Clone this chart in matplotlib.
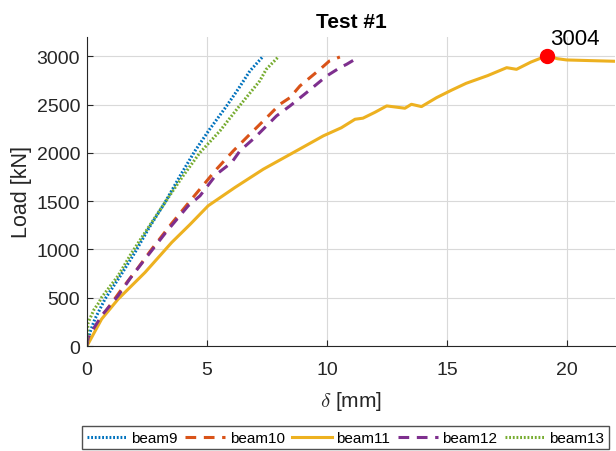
import numpy as np
import matplotlib.pyplot as plt

plt.rcParams['font.family'] = ['Liberation Sans', 'DejaVu Sans']
plt.rcParams['mathtext.fontset'] = 'cm'

# deflection [mm] / load [kN]
d9 = [0.0, 0.125, 0.33, 0.75, 1.4, 2.0, 2.6, 3.25, 3.9, 4.5, 5.1, 5.82, 6.3, 6.79, 7.35]
p9 = [0, 141, 279, 486, 730, 969, 1230, 1486, 1770, 2020, 2240, 2486, 2660, 2848, 3003]

d10 = [0.0, 0.05, 0.75, 1.45, 2.1, 2.7, 3.5, 4.36, 5.4, 6.1, 6.72, 7.14, 7.63, 8.04,
       8.46, 8.875, 9.71, 10.1, 10.54]
p10 = [0, 60, 348, 590, 800, 1003, 1260, 1521, 1831, 2021, 2176, 2279, 2400, 2503,
       2572, 2693, 2865, 2951, 2993]

d11 = [0.0, 0.61, 1.3, 2.42, 3.53, 4.3, 5.05, 6.17, 7.35, 8.6, 9.85, 10.6, 11.17, 11.5, 12.0,
       12.49, 13.25, 13.52, 13.94, 14.57, 15.2, 15.8, 16.7, 17.49, 17.9, 18.5, 19.15, 19.6,
       19.99, 21.0, 22.5]
p11 = [0, 279, 486, 762, 1072, 1260, 1452, 1642, 1831, 2003, 2176, 2260, 2348, 2359, 2420,
       2486, 2462, 2503, 2479, 2572, 2650, 2720, 2800, 2882, 2865, 2940, 3004, 2975,
       2962, 2955, 2945]

d12 = [0.0, 0.05, 0.61, 1.3, 1.8, 2.42, 3.3, 4.22, 4.71, 5.4, 6.03, 6.375, 7.0, 7.9, 8.46,
       9.15, 9.99, 10.54, 10.82, 11.24]
p12 = [0, 90, 314, 521, 700, 900, 1180, 1452, 1555, 1779, 1900, 2021, 2159, 2383, 2486,
       2624, 2796, 2882, 2917, 2979]

d13 = [0.0, 0.0, 0.05, 0.3, 0.5, 0.6, 1.3, 1.85, 2.42, 3.25, 4.0, 4.71, 5.54, 6.3, 7.2,
       7.47, 7.97]
p13 = [0, 100, 245, 380, 450, 500, 728, 960, 1176, 1486, 1760, 2003, 2227, 2469, 2745,
       2865, 2993]

peak_d, peak_p = 19.15, 3004

fig = plt.figure(figsize=(6.16, 4.52), dpi=100)
ax = fig.add_axes([0.1412, 0.2323, 0.857, 0.6837])

lw = 2.2
ax.plot(d9, p9, color='#0072BD', lw=lw, dashes=(0.6, 0.6), label='beam9')
ax.plot(d10, p10, color='#D95319', lw=lw, dashes=(3.5, 2.5), label='beam10')
ax.plot(d11, p11, '-', color='#EDB120', lw=lw, label='beam11')
ax.plot(d12, p12, color='#7E2F8E', lw=lw, dashes=(3.5, 2.5), label='beam12')
ax.plot(d13, p13, color='#77AC30', lw=lw, dashes=(0.6, 0.6), label='beam13')

ax.plot(peak_d, peak_p, 'o', color='red', ms=10, zorder=5)
ax.text(peak_d + 0.15, peak_p + 70, str(peak_p), fontsize=16, ha='left', va='bottom')

ax.set_xlim(0, 22)
ax.set_ylim(0, 3200)
ax.set_xticks([0, 5, 10, 15, 20])
ax.set_yticks(np.arange(0, 3001, 500))
ax.grid(True, color='#d9d9d9', lw=0.8)
ax.set_axisbelow(True)
for s in ['top', 'right']:
    ax.spines[s].set_visible(False)
for s in ['left', 'bottom']:
    ax.spines[s].set_color('#262626')
ax.tick_params(direction='in', labelsize=14, colors='#262626', length=4)
ax.tick_params(axis='x', pad=11)
ax.tick_params(axis='y', pad=5)

ax.set_title('Test #1', fontsize=15, fontweight='bold', pad=7)
ax.set_xlabel(r'$\delta$ [mm]', fontsize=15, color='#262626', labelpad=8)
ax.set_ylabel('Load [kN]', fontsize=15.5, color='#262626', labelpad=3)

fig.legend(loc='lower center', bbox_to_anchor=(0.561, 0.0), ncol=5, fontsize=11,
           frameon=True, fancybox=False, edgecolor='#262626', handlelength=2.6,
           handletextpad=0.3, columnspacing=0.5, borderpad=0.3, borderaxespad=0.1)

fig.savefig('out.png', dpi=100)
